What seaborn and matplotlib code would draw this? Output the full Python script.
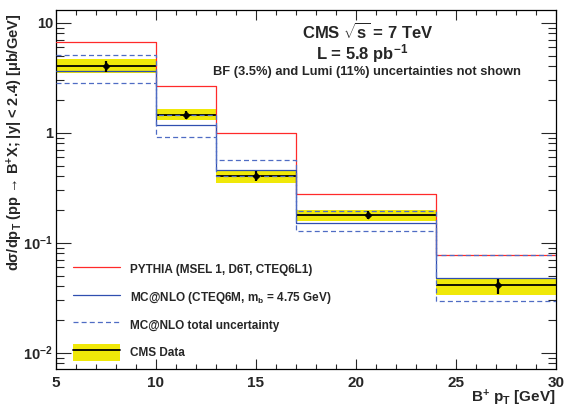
import numpy as np
import pandas as pd
import matplotlib
matplotlib.use("Agg")
import matplotlib.pyplot as plt
import seaborn as sns
from matplotlib.lines import Line2D
from matplotlib.patches import Patch
from matplotlib.ticker import FixedLocator, FixedFormatter, MultipleLocator, LogLocator, NullFormatter

# B+ pT bins [GeV]
bin_edges = [5, 10, 13, 17, 24, 30]
# measured points (x position inside each bin) and cross sections [ub/GeV]
data_x = [7.5, 11.5, 15.0, 20.6, 27.1]
data_val = [4.06, 1.46, 0.407, 0.180, 0.0412]
data_stat_lo = [3.59, 1.32, 0.364, 0.163, 0.0342]
data_stat_hi = [4.51, 1.57, 0.449, 0.195, 0.0465]
data_syst_lo = [3.47, 1.29, 0.351, 0.158, 0.0335]
data_syst_hi = [4.68, 1.63, 0.452, 0.198, 0.0480]
# theory predictions
pythia = [6.6, 2.66, 0.99, 0.279, 0.0768]
mcnlo = [3.66, 1.17, 0.455, 0.150, 0.048]
mcnlo_up = [5.12, 1.45, 0.565, 0.194, 0.0768]
mcnlo_down = [2.83, 0.92, 0.404, 0.128, 0.0297]

sns.set_style("white")
plt.rcParams["font.family"] = ["Liberation Sans", "DejaVu Sans"]
plt.rcParams["font.weight"] = "bold"
plt.rcParams["mathtext.fontset"] = "custom"
plt.rcParams["mathtext.rm"] = "Liberation Sans:bold"
plt.rcParams["mathtext.it"] = "Liberation Sans:bold"
plt.rcParams["mathtext.bf"] = "Liberation Sans:bold"

RED = "#ff2a2a"
BLUE = "#2f4fb0"
DASH_BLUE = "#4f6cc4"
YELLOW = "#f0e808"

fig = plt.figure(figsize=(5.65, 4.12), dpi=100)
ax = fig.add_axes([0.0986, 0.1032, 0.885, 0.872])

edges = np.array(bin_edges, dtype=float)
widths = np.diff(edges)
lefts = edges[:-1]

# systematic band of the measurement
ax.bar(lefts, np.array(data_syst_hi) - np.array(data_syst_lo), bottom=data_syst_lo,
       width=widths, align="edge", color=YELLOW, linewidth=0, zorder=1)
# measured value across each bin
ax.hlines(data_val, lefts, edges[1:], color="black", linewidth=1.3, zorder=3)


def step_frame(vals):
    return pd.DataFrame({"pt": edges, "xs": list(vals) + [vals[-1]]})


sns.lineplot(data=step_frame(pythia), x="pt", y="xs", drawstyle="steps-post",
             estimator=None, sort=False, color=RED, linewidth=0.9, ax=ax, zorder=4)
sns.lineplot(data=step_frame(mcnlo), x="pt", y="xs", drawstyle="steps-post",
             estimator=None, sort=False, color=BLUE, linewidth=0.9, ax=ax, zorder=4)
for band in (mcnlo_up, mcnlo_down):
    sns.lineplot(data=step_frame(band), x="pt", y="xs", drawstyle="steps-post",
                 estimator=None, sort=False, color=DASH_BLUE, linewidth=0.9,
                 dashes=False, linestyle=(0, (4, 2.5)), ax=ax, zorder=4)

# data points with statistical errors
yerr = [np.array(data_val) - np.array(data_stat_lo), np.array(data_stat_hi) - np.array(data_val)]
ax.errorbar(data_x, data_val, yerr=yerr, fmt="none", ecolor="black", elinewidth=1.6,
            capsize=0, zorder=5)
sns.scatterplot(x=data_x, y=data_val, color="black", marker="D", s=14, edgecolor="black",
                ax=ax, zorder=6, legend=False)

ax.set_yscale("log")
ax.set_xlim(5, 30)
ax.set_ylim(0.00703, 12.97)

ax.xaxis.set_major_locator(MultipleLocator(5))
ax.xaxis.set_minor_locator(MultipleLocator(1))
ax.yaxis.set_major_locator(FixedLocator([0.01, 0.1, 1, 10]))
ax.yaxis.set_major_formatter(FixedFormatter([r"$10^{-2}$", r"$10^{-1}$", "1", "10"]))
ax.yaxis.set_minor_locator(LogLocator(base=10, subs=np.arange(2, 10)))
ax.yaxis.set_minor_formatter(NullFormatter())

ax.tick_params(axis="x", which="major", direction="in", length=7, width=0.8,
               top=True, bottom=True, labelsize=11, pad=5)
ax.tick_params(axis="x", which="minor", direction="in", length=3.5, width=0.8,
               top=True, bottom=True)
ax.tick_params(axis="y", which="major", direction="in", length=11, width=0.8,
               left=True, right=True, labelsize=10.5, pad=2)
ax.tick_params(axis="y", which="minor", direction="in", length=5.5, width=0.8,
               left=True, right=True)
for lab in ax.get_xticklabels() + ax.get_yticklabels():
    lab.set_fontweight("bold")
for sp in ax.spines.values():
    sp.set_linewidth(0.9)
    sp.set_color("black")

ax.set_xlabel(r"B$^{+}$ p$_{\rm T}$ [GeV]", fontsize=11, fontweight="bold")
ax.xaxis.set_label_coords(1.0, -0.052)
ax.xaxis.label.set_horizontalalignment("right")
ax.set_ylabel("dσ/dp$_{\\rm T}$ (pp → B$^{+}$X; |y| < 2.4) [μb/GeV]",
              fontsize=10.5, fontweight="bold")
ax.yaxis.set_label_coords(-0.062, 0.99)
ax.yaxis.label.set_horizontalalignment("right")

ax.text(0.623, 0.94, r"CMS $\sqrt{\rm s}$ = 7 TeV", transform=ax.transAxes,
        ha="center", va="center", fontsize=12, fontweight="bold")
ax.text(0.613, 0.88, r"L = 5.8 pb$^{-1}$", transform=ax.transAxes,
        ha="center", va="center", fontsize=12, fontweight="bold")
ax.text(0.623, 0.827, "BF (3.5%) and Lumi (11%) uncertainties not shown",
        transform=ax.transAxes, ha="center", va="center", fontsize=9.3, fontweight="bold")

handles = [
    Line2D([], [], color=RED, linewidth=0.9),
    Line2D([], [], color=BLUE, linewidth=0.9),
    Line2D([], [], color=DASH_BLUE, linewidth=0.9, linestyle=(0, (4, 2.5))),
    (Patch(facecolor=YELLOW, edgecolor="none"), Line2D([], [], color="black", linewidth=1.3)),
]
labels = [
    "PYTHIA (MSEL 1, D6T, CTEQ6L1)",
    r"MC@NLO (CTEQ6M, m$_{\rm b}$ = 4.75 GeV)",
    "MC@NLO total uncertainty",
    "CMS Data",
]
leg = ax.legend(handles, labels, loc="upper left", bbox_to_anchor=(0.035, 0.302),
                frameon=False, fontsize=8.5, handlelength=4.0, handleheight=1.9,
                labelspacing=0.85, handletextpad=0.85, borderpad=0, borderaxespad=0)
for t in leg.get_texts():
    t.set_fontweight("bold")

fig.savefig("out.png", dpi=100)
